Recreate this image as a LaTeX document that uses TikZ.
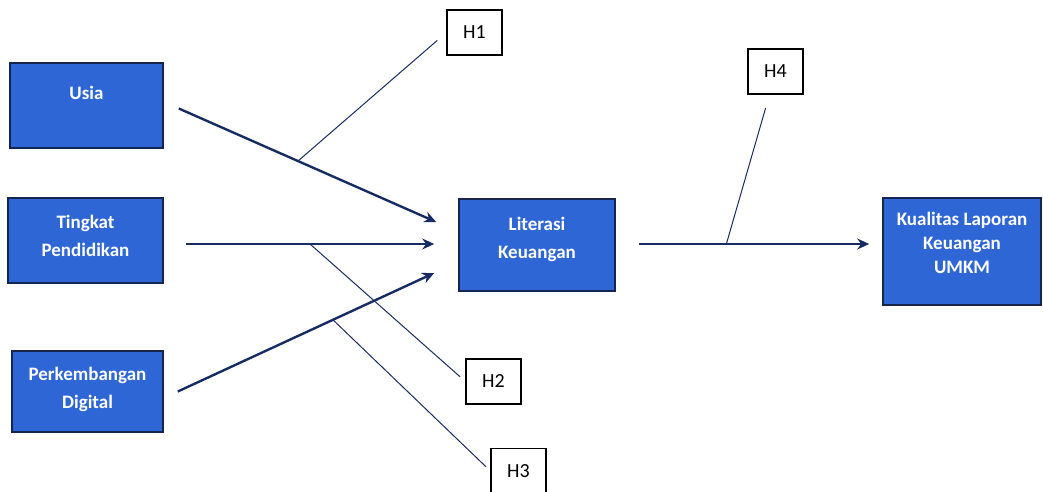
\documentclass[tikz,border=0pt]{standalone}
\usepackage{fontspec}
\setmainfont{Carlito}
\usetikzlibrary{arrows.meta}

\definecolor{boxblue}{RGB}{46,102,214}
\definecolor{boxedge}{RGB}{22,36,80}
\definecolor{linenavy}{RGB}{24,44,100}

\tikzset{
  varbox/.style={draw=boxedge, fill=boxblue, thick, text=white, align=center,
    font=\fontsize{9.5}{14}\selectfont\bfseries, inner sep=0pt},
  hypbox/.style={draw=black, fill=white, semithick, minimum width=27.5pt,
    minimum height=22.5pt, font=\fontsize{10}{12}\selectfont, inner sep=0pt},
  mainarrow/.style={draw=linenavy, line width=1.2pt, -{Stealth[length=6pt,width=5.5pt]}},
  hypline/.style={draw=linenavy, line width=0.5pt}
}

\begin{document}
\begin{tikzpicture}[x=0.5pt, y=-0.5pt]

\useasboundingbox (0,0) rectangle (1043,492);

\node[varbox, minimum width=76.5pt, minimum height=42.5pt, text depth=12.5pt] (usia) at (86.5,105.5) {Usia};
\node[varbox, minimum width=77.5pt, minimum height=42.5pt, text depth=4.5pt] (pend) at (85.5,240.5) {Tingkat\\Pendidikan};
\node[varbox, minimum width=75.5pt, minimum height=40.5pt, text depth=4pt] (digi) at (87.5,391.5) {Perkembangan\\Digital};
\node[varbox, minimum width=78pt, minimum height=46pt, text depth=7pt] (lit) at (537,245) {Literasi\\Keuangan};
\node[varbox, minimum width=79pt, minimum height=53.5pt, text depth=8.5pt,
  font=\fontsize{9.5}{12}\selectfont\bfseries] (lap) at (962,251.5) {Kualitas Laporan\\Keuangan\\UMKM};

\node[hypbox] (h1) at (474.5,32.5) {H1};
\node[hypbox] (h2) at (493.5,381.5) {H2};
\node[hypbox] (h3) at (518.5,471) {H3};
\node[hypbox] (h4) at (775.5,71.5) {H4};

% ends of the arrows
\coordinate (usiaout) at ([xshift=7.5pt,yshift=-1.5pt]usia.east);
\coordinate (pendout) at ([xshift=11pt,yshift=-1.75pt]pend.east);
\coordinate (digiout) at ([xshift=7pt]digi.east);
\coordinate (litin1) at ([xshift=-11pt,yshift=11.5pt]lit.west);
\coordinate (litin2) at ([xshift=-12pt,yshift=0.5pt]lit.west);
\coordinate (litin3) at ([xshift=-12pt,yshift=-14pt]lit.west);
\coordinate (litout) at ([xshift=11.5pt,yshift=0.5pt]lit.east);
\coordinate (lapin) at ([xshift=-6.5pt,yshift=3.75pt]lap.west);

\path[mainarrow] (usiaout) -- coordinate[pos=0.463] (h1foot) (litin1);
\path[mainarrow] (pendout) -- coordinate[pos=0.5] (h2foot) (litin2);
\path[mainarrow] (digiout) -- coordinate[pos=0.605] (h3foot) (litin3);
\path[mainarrow] (litout) -- coordinate[pos=0.38] (h4foot) (lapin);

% hypothesis lines
\path[hypline, shorten >=6pt] (h1foot) -- (h1.west);
\path[hypline, shorten >=3.5pt] (h2foot) -- (h2.west);
\path[hypline, shorten >=3pt] (h3foot) -- (h3.west);
\path[hypline, shorten >=7pt] (h4foot) -- ([xshift=-3pt]h4.south);

\end{tikzpicture}
\end{document}
